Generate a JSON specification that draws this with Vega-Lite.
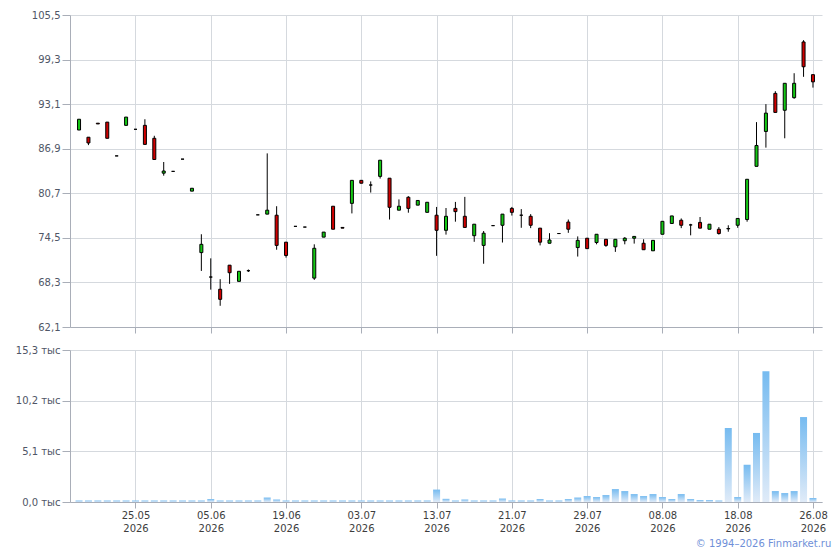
{
  "$schema": "https://vega.github.io/schema/vega-lite/v6.json",
  "background": "white",
  "padding": {"left": 10, "top": 10, "right": 8, "bottom": 4},
  "bounds": "flush",
  "spacing": 23,
  "title": {
    "text": "© 1994–2026 Finmarket.ru",
    "orient": "bottom",
    "anchor": "end",
    "font": "DejaVu Sans",
    "fontSize": 10,
    "fontWeight": "normal",
    "color": "#6f8fd8",
    "offset": 6,
    "dx": 4
  },
  "data": {
    "values": [
      {"d": "14.05", "o": 89.5, "h": 91.0, "l": 89.5, "c": 91.0, "v": 150},
      {"d": "15.05", "o": 88.5, "h": 88.5, "l": 87.4, "c": 87.7, "v": 150},
      {"d": "18.05", "o": 90.45, "h": 90.45, "l": 90.35, "c": 90.35, "v": 150},
      {"d": "19.05", "o": 90.6, "h": 90.6, "l": 88.35, "c": 88.35, "v": 150},
      {"d": "20.05", "o": 85.9, "h": 85.9, "l": 85.9, "c": 85.9, "v": 150},
      {"d": "22.05", "o": 90.15, "h": 91.3, "l": 90.15, "c": 91.3, "v": 150},
      {"d": "25.05", "o": 89.6, "h": 89.6, "l": 89.6, "c": 89.6, "v": 150},
      {"d": "26.05", "o": 90.15, "h": 91.0, "l": 87.5, "c": 87.5, "v": 150},
      {"d": "27.05", "o": 88.35, "h": 88.7, "l": 85.4, "c": 85.4, "v": 150},
      {"d": "28.05", "o": 83.5, "h": 85.05, "l": 83.15, "c": 83.8, "v": 150},
      {"d": "29.05", "o": 83.75, "h": 83.75, "l": 83.75, "c": 83.75, "v": 150},
      {"d": "01.06", "o": 85.45, "h": 85.45, "l": 85.45, "c": 85.45, "v": 150},
      {"d": "02.06", "o": 81.0, "h": 81.4, "l": 81.0, "c": 81.4, "v": 150},
      {"d": "04.06", "o": 72.45, "h": 75.0, "l": 69.9, "c": 73.6, "v": 150},
      {"d": "05.06", "o": 69.05, "h": 71.65, "l": 67.3, "c": 69.05, "v": 300},
      {"d": "08.06", "o": 67.35, "h": 68.75, "l": 65.05, "c": 65.95, "v": 150},
      {"d": "09.06", "o": 70.7, "h": 70.7, "l": 68.1, "c": 69.65, "v": 150},
      {"d": "10.06", "o": 68.45, "h": 69.85, "l": 68.45, "c": 69.85, "v": 150},
      {"d": "11.06", "o": 69.93, "h": 70.1, "l": 69.75, "c": 69.93, "v": 150},
      {"d": "15.06", "o": 77.7, "h": 77.7, "l": 77.7, "c": 77.7, "v": 150},
      {"d": "16.06", "o": 77.8, "h": 86.25, "l": 77.8, "c": 78.35, "v": 450},
      {"d": "17.06", "o": 77.65, "h": 78.9, "l": 72.85, "c": 73.45, "v": 250},
      {"d": "19.06", "o": 73.9, "h": 73.9, "l": 71.75, "c": 72.05, "v": 150},
      {"d": "22.06", "o": 76.1, "h": 76.1, "l": 76.1, "c": 76.1, "v": 150},
      {"d": "23.06", "o": 76.0, "h": 76.0, "l": 76.0, "c": 76.0, "v": 150},
      {"d": "24.06", "o": 68.9, "h": 73.6, "l": 68.65, "c": 73.05, "v": 150},
      {"d": "25.06", "o": 74.6, "h": 75.3, "l": 74.6, "c": 75.3, "v": 150},
      {"d": "29.06", "o": 78.9, "h": 78.9, "l": 75.7, "c": 75.7, "v": 150},
      {"d": "30.06", "o": 75.95, "h": 75.95, "l": 75.85, "c": 75.85, "v": 150},
      {"d": "01.07", "o": 79.3, "h": 82.5, "l": 77.9, "c": 82.5, "v": 150},
      {"d": "03.07", "o": 82.5, "h": 82.5, "l": 82.1, "c": 82.1, "v": 150},
      {"d": "06.07", "o": 81.85, "h": 82.35, "l": 80.8, "c": 81.85, "v": 150},
      {"d": "07.07", "o": 83.05, "h": 85.3, "l": 82.75, "c": 85.3, "v": 150},
      {"d": "08.07", "o": 82.8, "h": 82.8, "l": 77.05, "c": 78.75, "v": 150},
      {"d": "09.07", "o": 78.35, "h": 79.85, "l": 78.35, "c": 78.9, "v": 150},
      {"d": "10.07", "o": 80.15, "h": 80.3, "l": 78.0, "c": 78.6, "v": 150},
      {"d": "11.07", "o": 79.05, "h": 79.7, "l": 79.05, "c": 79.7, "v": 150},
      {"d": "12.07", "o": 78.05, "h": 79.45, "l": 78.05, "c": 79.45, "v": 150},
      {"d": "13.07", "o": 77.65, "h": 78.8, "l": 72.0, "c": 75.55, "v": 1250},
      {"d": "14.07", "o": 75.55, "h": 78.65, "l": 74.95, "c": 77.5, "v": 320},
      {"d": "15.07", "o": 78.6, "h": 79.5, "l": 76.75, "c": 78.15, "v": 150},
      {"d": "16.07", "o": 77.5, "h": 80.2, "l": 75.95, "c": 75.95, "v": 250},
      {"d": "17.07", "o": 74.8, "h": 76.4, "l": 73.95, "c": 76.4, "v": 150},
      {"d": "18.07", "o": 73.45, "h": 75.45, "l": 70.9, "c": 75.15, "v": 150},
      {"d": "19.07", "o": 76.2, "h": 76.2, "l": 76.2, "c": 76.2, "v": 150},
      {"d": "20.07", "o": 76.25, "h": 77.8, "l": 73.85, "c": 77.8, "v": 350},
      {"d": "21.07", "o": 78.6, "h": 78.8, "l": 77.6, "c": 78.05, "v": 150},
      {"d": "22.07", "o": 77.65, "h": 78.5, "l": 75.9, "c": 77.65, "v": 150},
      {"d": "23.07", "o": 77.5, "h": 77.8, "l": 75.85, "c": 76.25, "v": 150},
      {"d": "24.07", "o": 75.85, "h": 75.85, "l": 73.45, "c": 73.9, "v": 300},
      {"d": "25.07", "o": 73.75, "h": 75.15, "l": 73.75, "c": 74.2, "v": 150},
      {"d": "26.07", "o": 75.1, "h": 75.1, "l": 75.1, "c": 75.1, "v": 150},
      {"d": "27.07", "o": 76.7, "h": 77.05, "l": 75.2, "c": 75.7, "v": 300},
      {"d": "28.07", "o": 73.15, "h": 74.7, "l": 71.9, "c": 74.15, "v": 450},
      {"d": "29.07", "o": 74.45, "h": 74.45, "l": 73.0, "c": 73.0, "v": 600},
      {"d": "30.07", "o": 73.85, "h": 75.0, "l": 73.6, "c": 75.0, "v": 500},
      {"d": "31.07", "o": 74.3, "h": 74.3, "l": 73.25, "c": 73.45, "v": 700},
      {"d": "01.08", "o": 73.25, "h": 74.3, "l": 72.55, "c": 74.3, "v": 1300},
      {"d": "03.08", "o": 74.1, "h": 74.6, "l": 73.6, "c": 74.45, "v": 1100},
      {"d": "04.08", "o": 74.45, "h": 74.7, "l": 73.7, "c": 74.7, "v": 800},
      {"d": "05.08", "o": 73.75, "h": 74.3, "l": 72.85, "c": 72.85, "v": 600},
      {"d": "06.08", "o": 72.7, "h": 74.15, "l": 72.7, "c": 74.15, "v": 800},
      {"d": "08.08", "o": 75.0, "h": 76.8, "l": 75.0, "c": 76.8, "v": 500},
      {"d": "09.08", "o": 76.5, "h": 77.55, "l": 76.5, "c": 77.55, "v": 300},
      {"d": "10.08", "o": 76.95, "h": 77.2, "l": 75.85, "c": 76.25, "v": 800},
      {"d": "11.08", "o": 76.3, "h": 76.45, "l": 74.85, "c": 76.3, "v": 300},
      {"d": "12.08", "o": 76.65, "h": 77.4, "l": 75.85, "c": 75.85, "v": 200},
      {"d": "13.08", "o": 75.7, "h": 76.4, "l": 75.7, "c": 76.4, "v": 200},
      {"d": "14.08", "o": 75.7, "h": 76.0, "l": 74.95, "c": 75.1, "v": 150},
      {"d": "17.08", "o": 75.75, "h": 76.25, "l": 75.35, "c": 75.8, "v": 7450},
      {"d": "18.08", "o": 76.25, "h": 77.2, "l": 75.9, "c": 77.2, "v": 500},
      {"d": "19.08", "o": 77.05, "h": 82.65, "l": 76.75, "c": 82.65, "v": 3750},
      {"d": "20.08", "o": 84.45, "h": 90.6, "l": 84.45, "c": 87.35, "v": 6950},
      {"d": "21.08", "o": 89.3, "h": 93.1, "l": 87.05, "c": 91.85, "v": 13150},
      {"d": "22.08", "o": 94.6, "h": 94.9, "l": 91.95, "c": 91.95, "v": 1100},
      {"d": "23.08", "o": 92.25, "h": 96.0, "l": 88.35, "c": 96.0, "v": 900},
      {"d": "24.08", "o": 94.0, "h": 97.4, "l": 93.85, "c": 96.0, "v": 1100},
      {"d": "25.08", "o": 101.75, "h": 102.0, "l": 96.9, "c": 98.3, "v": 8550},
      {"d": "26.08", "o": 97.2, "h": 97.2, "l": 95.4, "c": 96.2, "v": 400}
    ]
  },
  "config": {
    "view": {"stroke": null},
    "axis": {
      "labelFont": "DejaVu Sans",
      "labelFontSize": 10,
      "gridColor": "#d5d9de",
      "gridWidth": 1,
      "domainColor": "#a9aeb8",
      "tickColor": "#a9aeb8",
      "title": null
    }
  },
  "vconcat": [
    {
      "width": 752,
      "height": 312,
      "encoding": {
        "x": {
          "field": "d",
          "type": "ordinal",
          "sort": null,
          "scale": {"type": "point", "padding": 0.96},
          "axis": {
            "values": ["25.05", "05.06", "19.06", "03.07", "13.07", "21.07", "29.07", "08.08", "18.08", "26.08"],
            "labels": false,
            "tickSize": 6,
            "grid": true
          }
        }
      },
      "layer": [
        {
          "mark": {"type": "rule", "color": "#000000", "strokeWidth": 1},
          "encoding": {
            "y": {
              "field": "l",
              "type": "quantitative",
              "scale": {"domain": [62.1, 105.5], "zero": false, "nice": false},
              "axis": {
                "values": [62.1, 68.3, 74.5, 80.7, 86.9, 93.1, 99.3, 105.5],
                "labelExpr": "replace(format(datum.value, '.1f'), '.', ',')",
                "labelColor": "#4f5666",
                "tickSize": 8,
                "labelPadding": 2,
                "minExtent": 60,
                "maxExtent": 60,
                "grid": true
              }
            },
            "y2": {"field": "h"}
          }
        },
        {
          "mark": {"type": "bar", "width": 3, "stroke": "#000000", "strokeWidth": 1},
          "encoding": {
            "y": {"field": "o", "type": "quantitative"},
            "y2": {"field": "c"},
            "color": {
              "condition": {"test": "datum.c >= datum.o", "value": "#14c814"},
              "value": "#d00000"
            }
          }
        }
      ]
    },
    {
      "width": 752,
      "height": 152,
      "mark": {
        "type": "bar",
        "width": 7,
        "fill": {
          "gradient": "linear",
          "x1": 0, "y1": 1, "x2": 0, "y2": 0,
          "stops": [
            {"offset": 0, "color": "#e0ebf8"},
            {"offset": 1, "color": "#76bbf0"}
          ]
        }
      },
      "encoding": {
        "x": {
          "field": "d",
          "type": "ordinal",
          "sort": null,
          "scale": {"type": "point", "padding": 0.96},
          "axis": {
            "values": ["25.05", "05.06", "19.06", "03.07", "13.07", "21.07", "29.07", "08.08", "18.08", "26.08"],
            "labelExpr": "[datum.label, '2026']",
            "labelColor": "#3d3d3d",
            "labelAngle": 0,
            "labelLineHeight": 13,
            "labelPadding": 2,
            "tickSize": 6,
            "grid": true
          }
        },
        "y": {
          "field": "v",
          "type": "quantitative",
          "scale": {"domain": [0, 15300], "nice": false},
          "axis": {
            "values": [0, 5100, 10200, 15300],
            "labelExpr": "replace(format(datum.value / 1000, '.1f'), '.', ',') + ' тыс'",
            "labelColor": "#4f5666",
            "tickSize": 8,
            "labelPadding": 2,
            "minExtent": 60,
            "maxExtent": 60,
            "grid": true
          }
        }
      }
    }
  ]
}
